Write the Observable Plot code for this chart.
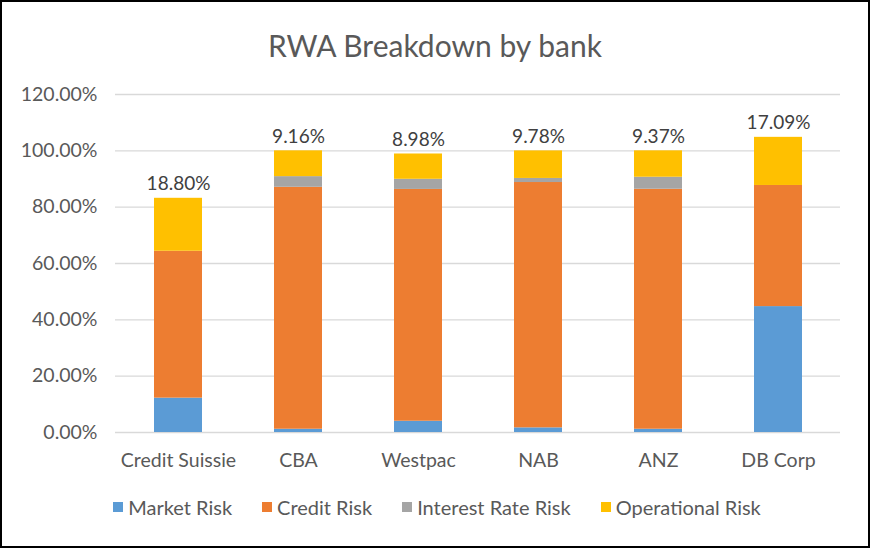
<!DOCTYPE html>
<html>
<head>
<meta charset="utf-8">
<script src="https://cdn.jsdelivr.net/npm/d3@7"></script>
<script src="https://cdn.jsdelivr.net/npm/@observablehq/plot@0.6"></script>
<style>
  html, body { margin: 0; padding: 0; background: #fff; }
  #frame { position: relative; width: 866px; height: 544px; border: 2px solid #000; font-family: Lato, "Open Sans", sans-serif; color: #595959; overflow: hidden; }
  #title { position: absolute; top: 25px; left: 0; width: 866px; text-align: center; font-size: 30px; line-height: 36px; color: #595959; }
  #chart { position: absolute; top: 76px; left: 0; }
  #legend { position: absolute; top: 493px; left: 0; width: 866px; display: flex; justify-content: center; gap: 30px; font-size: 20px; line-height: 24px; color: #595959; padding-left: 4px; box-sizing: border-box; }
  .item { display: flex; align-items: center; gap: 5px; }
  .sw { width: 10px; height: 10px; display: inline-block; }
</style>
</head>
<body>
<div id="frame">
  <div id="title">RWA Breakdown by bank</div>
  <div id="chart"></div>
  <div id="legend"></div>
</div>
<script>
const banks = ["Credit Suissie", "CBA", "Westpac", "NAB", "ANZ", "DB Corp"];
const seriesNames = ["Market Risk", "Credit Risk", "Interest Rate Risk", "Operational Risk"];
const seriesColors = ["#5b9bd5", "#ed7d31", "#a5a5a5", "#ffc000"];
const marketRisk = [12.2, 1.16, 4.0, 1.65, 1.16, 44.7];
const creditRisk = [52.15, 85.9, 82.3, 87.1, 85.2, 43.0];
const interestRateRisk = [0, 3.78, 3.6, 1.45, 4.27, 0];
const operationalRisk = [18.80, 9.16, 8.98, 9.78, 9.37, 17.09];
const yTicks = [0, 20, 40, 60, 80, 100, 120];

const seriesValues = [marketRisk, creditRisk, interestRateRisk, operationalRisk];
const rows = [];
banks.forEach((b, i) => {
  seriesNames.forEach((s, j) => rows.push({bank: b, series: s, value: seriesValues[j][i]}));
});
const totals = banks.map((b, i) => ({
  bank: b,
  total: marketRisk[i] + creditRisk[i] + interestRateRisk[i] + operationalRisk[i],
  label: operationalRisk[i].toFixed(2) + "%"
}));

const fontFam = "Lato, 'Open Sans', sans-serif";
const chart = Plot.plot({
  width: 866,
  height: 406,
  marginLeft: 113,
  marginRight: 28,
  marginTop: 16,
  marginBottom: 52,
  style: {fontFamily: fontFam, color: "#595959", background: "#fff"},
  x: {domain: banks, paddingInner: 0.6, paddingOuter: 0.3},
  y: {domain: [0, 120]},
  color: {domain: seriesNames, range: seriesColors},
  marks: [
    Plot.ruleY(yTicks, {stroke: "#d9d9d9", strokeWidth: 1.4}),
    Plot.barY(rows, {x: "bank", y: "value", fill: "series", order: seriesNames}),
    Plot.text(totals, {x: "bank", y: "total", text: "label", dy: -14, fill: "#404040", fontSize: 19}),
    Plot.axisX({label: null, tickSize: 0, tickPadding: 21, fontSize: 19.5, fill: "#595959"}),
    Plot.axisY({label: null, ticks: yTicks, tickSize: 0, tickPadding: 18, fontSize: 19.5, fill: "#595959", tickFormat: d => d.toFixed(2) + "%"})
  ]
});
document.getElementById("chart").appendChild(chart);

const legend = document.getElementById("legend");
seriesNames.forEach((s, j) => {
  const it = document.createElement("div");
  it.className = "item";
  const sw = document.createElement("span");
  sw.className = "sw";
  sw.style.background = seriesColors[j];
  const lb = document.createElement("span");
  lb.textContent = s;
  it.appendChild(sw);
  it.appendChild(lb);
  legend.appendChild(it);
});
</script>
</body>
</html>
